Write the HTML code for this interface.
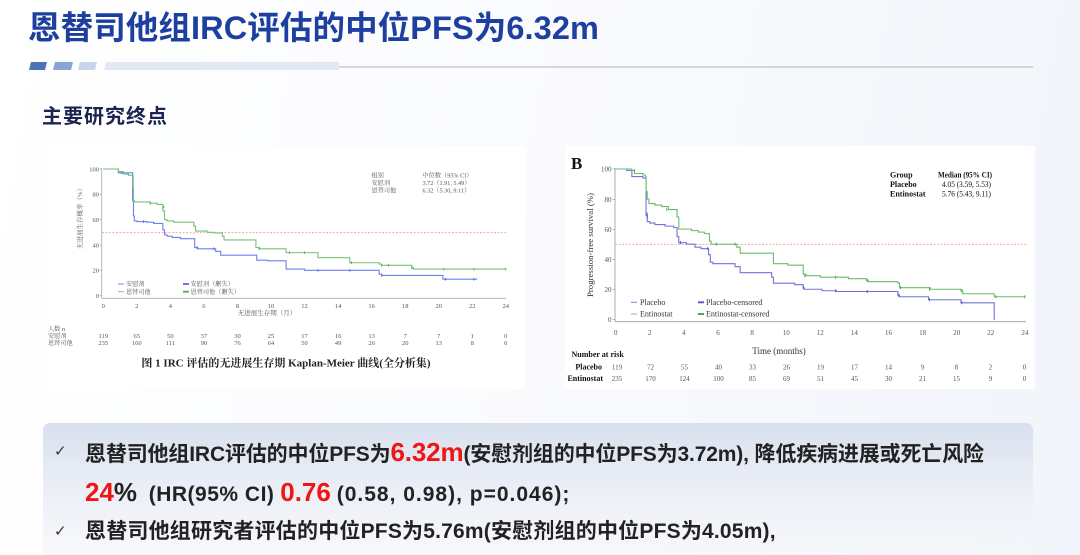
<!DOCTYPE html>
<html><head><meta charset="utf-8">
<style>
*{margin:0;padding:0;box-sizing:border-box}
html,body{width:1080px;height:555px;overflow:hidden}
body{position:relative;background:linear-gradient(100deg,#ffffff 0%,#f9fafd 55%,#f1f4fa 100%);font-family:"Liberation Sans","Noto Sans CJK SC",sans-serif}
.abs{position:absolute;white-space:nowrap}
.title{left:28px;top:10px;font-size:32.5px;line-height:36px;font-weight:bold;color:#1d3f9f;letter-spacing:0.1px}
.sub{left:42px;top:106px;font-size:20px;line-height:22px;font-weight:bold;color:#1b2450;letter-spacing:1px}
.card{position:absolute;background:#fff}
.box{position:absolute;left:43px;top:423px;width:990px;height:132px;border-radius:7px 7px 0 0;background:linear-gradient(180deg,#d8e0ee 0%,#e6ebf4 35%,#f2f4f9 75%,rgba(245,247,251,0.6) 100%)}
.ln{font-size:21px;line-height:30px;font-weight:bold;color:#222}
.red{color:#f01414;font-size:26px}
.chk{font-family:"DejaVu Sans",sans-serif;font-size:15px;font-weight:normal;color:#333}
</style></head><body>

<div class="abs title">恩替司他组IRC评估的中位PFS为6.32m</div>

<svg class="abs" style="left:0;top:0" width="1080" height="100">
  <polygon points="31,62 47,62 45,70 29,70" fill="#4f72bb"/>
  <polygon points="55,62 73,62 71,70 53,70" fill="#88a3d4"/>
  <polygon points="80,62 97,62 95,70 78,70" fill="#c8d5eb"/>
  <polygon points="106,62 339,62 339,70 104,70" fill="#e3e9f4"/>
  <line x1="339" y1="67" x2="1033" y2="67" stroke="#c9cacd" stroke-width="1.6"/>
</svg>

<div class="abs sub">主要研究终点</div>

<div class="card" style="left:47px;top:146px;width:478px;height:243px"></div>
<div class="card" style="left:565px;top:146px;width:470px;height:243px"></div>

<svg class="abs" style="left:0;top:0" width="1080" height="400" font-family="'Liberation Serif','Noto Serif CJK SC',serif">
  <!-- LEFT CHART -->
  <g stroke="#aaa" stroke-width="0.8" fill="none">
    <line x1="101.7" y1="168" x2="101.7" y2="298.3"/>
    <line x1="101.7" y1="298.3" x2="506" y2="298.3"/>
  </g>
  <g stroke="#aaa" stroke-width="0.7">
    <line x1="99.5" y1="169" x2="101.7" y2="169"/><line x1="99.5" y1="194.3" x2="101.7" y2="194.3"/>
    <line x1="99.5" y1="219.7" x2="101.7" y2="219.7"/><line x1="99.5" y1="245" x2="101.7" y2="245"/>
    <line x1="99.5" y1="270.3" x2="101.7" y2="270.3"/><line x1="99.5" y1="295.7" x2="101.7" y2="295.7"/>
  </g>
  <g font-size="6.5" fill="#555" text-anchor="end">
    <text x="99" y="171.3">100</text><text x="99" y="196.6">80</text><text x="99" y="222">60</text>
    <text x="99" y="247.3">40</text><text x="99" y="272.6">20</text><text x="99" y="298">0</text>
  </g>
  <g font-size="6.5" fill="#555" text-anchor="middle">
    <text x="103.3" y="308">0</text><text x="136.8" y="308">2</text><text x="170.4" y="308">4</text>
    <text x="203.9" y="308">6</text><text x="237.5" y="308">8</text><text x="271" y="308">10</text>
    <text x="304.5" y="308">12</text><text x="338.1" y="308">14</text><text x="371.6" y="308">16</text>
    <text x="405.2" y="308">18</text><text x="438.7" y="308">20</text><text x="472.2" y="308">22</text>
    <text x="505.8" y="308">24</text>
    <text x="267" y="315" font-size="6.5">无进展生存期（月）</text>
  </g>
  <text transform="translate(82 217) rotate(-90)" font-size="6.5" fill="#666" text-anchor="middle">无进展生存概率（%）</text>
  <line x1="102" y1="232.7" x2="506" y2="232.7" stroke="#f29a9a" stroke-width="0.9" stroke-dasharray="2,1.5"/>
  <g transform="translate(103.3 295.7) scale(16.77 -1.267)" fill="none">
    <path vector-effect="non-scaling-stroke" stroke="#6d7ef5" stroke-width="1.1" d="M0,100 H0.9 V97 H1.75 V75 H1.8 V63 H1.85 V59 H2.0 V58.5 H2.6 V58 H3.0 V57 H3.55 V52 H3.65 V48 H3.8 V47 H4.1 V46 H4.6 V45 H5.45 V38 H5.6 V37 H6.7 V35 H7.0 V32 H9.15 V28 H9.8 V27.5 H10.9 V21 H12 V20 H16.45 V17 H16.6 V16 H20.25 V13 H22.3"/>
    <path vector-effect="non-scaling-stroke" stroke="#5566ee" stroke-width="1" d="M1.1,96 V98 M2.4,57.5 V59.5 M5.6,37 V39 M6.6,36 V38 M12.8,19 V21 M14.7,19 V21 M16.6,15 V17 M20.4,12 V14 M22.1,12 V14"/>
    <path vector-effect="non-scaling-stroke" stroke="#74c274" stroke-width="1.1" d="M0,100 H0.9 V98 H1.2 V96 H1.5 V95 H1.78 V85 H1.8 V75 H1.85 V74 H2.8 V73 H3.2 V72 H3.55 V67 H3.65 V60 H3.8 V59 H4.2 V58 H5.4 V55 H5.5 V51 H6.2 V50 H6.6 V49.5 H7.1 V47 H7.2 V44 H9.1 V38 H9.3 V37 H10.9 V34 H12.8 V30 H14.7 V26 H16.45 V25 H16.6 V24 H18.4 V22 H18.5 V21 H24"/>
    <path vector-effect="non-scaling-stroke" stroke="#55b055" stroke-width="1" d="M2.8,72 V74 M3.6,69 V71 M9.3,36 V38 M11.1,33 V35 M12.0,33 V35 M14.8,25 V27 M16.6,23 V25 M17.0,23 V25 M18.4,21 V23 M20.3,20 V22 M22.1,20 V22 M24,20 V22"/>
  </g>
  <g font-size="6.2" fill="#555">
    <text x="371.5" y="177.5">组别</text><text x="422.5" y="177.5">中位数（95% CI）</text>
    <text x="371.5" y="185">安慰剂</text><text x="422.5" y="185">3.72（1.91, 5.49）</text>
    <text x="371.5" y="192.5">恩替司他</text><text x="422.5" y="192.5">6.32（5.30, 9.11）</text>
  </g>
  <g font-size="6.2" fill="#555">
    <line x1="118" y1="284" x2="124" y2="284" stroke="#7b8af5" stroke-width="1"/>
    <text x="126" y="286.2">安慰剂</text>
    <line x1="118" y1="291.7" x2="124" y2="291.7" stroke="#80c880" stroke-width="1"/>
    <text x="126" y="294">恩替司他</text>
    <line x1="183" y1="284" x2="189" y2="284" stroke="#5566ee" stroke-width="1.8"/>
    <text x="190.5" y="286.2">安慰剂（删失）</text>
    <line x1="183" y1="291.7" x2="189" y2="291.7" stroke="#55b055" stroke-width="1.8"/>
    <text x="190.5" y="294">恩替司他（删失）</text>
  </g>
  <g font-size="6.2" fill="#555">
    <text x="48" y="331">人数 n</text><text x="48" y="338">安慰剂</text><text x="48" y="345">恩替司他</text>
  </g>
  <g font-size="6.5" fill="#555" text-anchor="middle">
    <text x="103.3" y="338">119</text><text x="136.8" y="338">65</text><text x="170.4" y="338">50</text>
    <text x="203.9" y="338">37</text><text x="237.5" y="338">30</text><text x="271" y="338">25</text>
    <text x="304.5" y="338">17</text><text x="338.1" y="338">16</text><text x="371.6" y="338">13</text>
    <text x="405.2" y="338">7</text><text x="438.7" y="338">7</text><text x="472.2" y="338">1</text>
    <text x="505.8" y="338">0</text>
    <text x="103.3" y="345">235</text><text x="136.8" y="345">160</text><text x="170.4" y="345">111</text>
    <text x="203.9" y="345">90</text><text x="237.5" y="345">76</text><text x="271" y="345">64</text>
    <text x="304.5" y="345">50</text><text x="338.1" y="345">49</text><text x="371.6" y="345">26</text>
    <text x="405.2" y="345">20</text><text x="438.7" y="345">13</text><text x="472.2" y="345">8</text>
    <text x="505.8" y="345">0</text>
  </g>
  <text x="286" y="366.5" font-size="11" font-weight="bold" fill="#222" text-anchor="middle">图 1 IRC 评估的无进展生存期 Kaplan-Meier 曲线(全分析集)</text>

  <!-- RIGHT CHART -->
  <text x="571" y="169" font-size="17" font-weight="bold" fill="#111">B</text>
  <g stroke="#999" stroke-width="0.8" fill="none">
    <line x1="615" y1="168" x2="615" y2="321.7"/>
    <line x1="615" y1="321.7" x2="1026" y2="321.7"/>
  </g>
  <g stroke="#999" stroke-width="0.7">
    <line x1="612.5" y1="169" x2="615" y2="169"/><line x1="612.5" y1="199.3" x2="615" y2="199.3"/>
    <line x1="612.5" y1="229.3" x2="615" y2="229.3"/><line x1="612.5" y1="259.3" x2="615" y2="259.3"/>
    <line x1="612.5" y1="289.3" x2="615" y2="289.3"/><line x1="612.5" y1="319.3" x2="615" y2="319.3"/>
  </g>
  <g font-size="7" fill="#555" text-anchor="end">
    <text x="611.5" y="171.5">100</text><text x="611.5" y="201.8">80</text><text x="611.5" y="231.8">60</text>
    <text x="611.5" y="261.8">40</text><text x="611.5" y="291.8">20</text><text x="611.5" y="321.8">0</text>
  </g>
  <g font-size="7" fill="#555" text-anchor="middle">
    <text x="615.7" y="335">0</text><text x="649.8" y="335">2</text><text x="683.9" y="335">4</text>
    <text x="718" y="335">6</text><text x="752.1" y="335">8</text><text x="786.2" y="335">10</text>
    <text x="820.3" y="335">12</text><text x="854.4" y="335">14</text><text x="888.5" y="335">16</text>
    <text x="922.6" y="335">18</text><text x="956.7" y="335">20</text><text x="990.8" y="335">22</text>
    <text x="1024.9" y="335">24</text>
  </g>
  <text x="779" y="354" font-size="9" fill="#333" text-anchor="middle">Time (months)</text>
  <text transform="translate(593 245) rotate(-90)" font-size="8.8" fill="#333" text-anchor="middle">Progression-free survival (%)</text>
  <line x1="615" y1="244.3" x2="1028" y2="244.3" stroke="#f29a9a" stroke-width="0.9" stroke-dasharray="2,1.5"/>
  <g transform="translate(615.7 319.3) scale(17.05 -1.503)" fill="none">
    <path vector-effect="non-scaling-stroke" stroke="#7272dc" stroke-width="1.1" d="M0,100 H0.65 V99 H0.95 V95 H1.6 V94 H1.78 V69 H1.85 V65 H2.0 V64 H2.3 V63 H2.9 V62 H3.4 V61 H3.6 V55 H3.7 V51 H4.15 V50 H4.65 V48 H5.0 V47 H5.45 V43 H5.55 V38 H5.7 V37 H7.0 V35 H7.3 V31 H9.15 V28 H9.25 V24 H10.5 V23 H11.0 V21 H11.05 V20 H12.1 V19 H12.95 V18.5 H16.55 V16 H16.65 V15 H18.35 V13 H20.25 V11 H22.2 V0 H22.25"/>
    <path vector-effect="non-scaling-stroke" stroke="#5a5acc" stroke-width="1" d="M1.85,67 V71 M3.8,50 V52 M5.4,46 V48 M11.0,20 V22 M12.9,18 V20 M14.75,17.5 V19.5 M16.6,15 V17 M18.4,12 V14 M20.3,10 V12"/>
    <path vector-effect="non-scaling-stroke" stroke="#6abb6a" stroke-width="1.1" d="M0,100 H0.95 V99 H1.1 V97 H1.6 V96 H1.75 V95 H1.78 V85 H1.85 V80 H1.95 V77 H2.3 V76 H2.7 V75 H3.1 V73 H3.6 V68 H3.7 V60 H4.45 V59 H4.85 V58 H5.2 V57 H5.5 V52 H5.6 V50 H7.1 V48 H7.3 V44 H9.25 V37 H10.1 V36 H11.0 V30 H11.15 V29 H12.0 V28 H13.65 V27 H14.7 V26 H14.8 V25 H16.55 V24 H16.65 V21 H18.45 V20 H20.25 V19 H20.35 V17 H22.2 V15 H24"/>
    <path vector-effect="non-scaling-stroke" stroke="#4fa84f" stroke-width="1" d="M1.1,98 V100 M3.0,72 V74 M5.9,49 V51 M7.0,49 V51 M11.1,28 V30 M12.9,27 V29 M14.75,25 V27 M16.7,20 V22 M18.4,19 V21 M20.3,18 V20 M22.3,14 V16 M24,14 V16"/>
  </g>
  <g font-size="8" fill="#111">
    <text x="890" y="177.5" font-weight="bold">Group</text>
    <text x="938" y="177.5" font-weight="bold" textLength="54" lengthAdjust="spacingAndGlyphs">Median (95% CI)</text>
    <text x="890" y="187" font-weight="bold">Placebo</text>
    <text x="942" y="187" textLength="49" lengthAdjust="spacingAndGlyphs">4.05 (3.59, 5.53)</text>
    <text x="890" y="196.5" font-weight="bold">Entinostat</text>
    <text x="942" y="196.5" textLength="49" lengthAdjust="spacingAndGlyphs">5.76 (5.43, 9.11)</text>
  </g>
  <g font-size="8" fill="#333">
    <line x1="631" y1="302.3" x2="637" y2="302.3" stroke="#8080e0" stroke-width="1"/>
    <text x="640" y="305">Placebo</text>
    <line x1="631" y1="314" x2="637" y2="314" stroke="#80c880" stroke-width="1"/>
    <text x="640" y="316.7">Entinostat</text>
    <line x1="698" y1="302.3" x2="704" y2="302.3" stroke="#5a5acc" stroke-width="2"/>
    <text x="706" y="305">Placebo-censored</text>
    <line x1="698" y1="314" x2="704" y2="314" stroke="#4fa84f" stroke-width="2"/>
    <text x="706" y="316.7">Entinostat-censored</text>
  </g>
  <text x="571.5" y="357" font-size="8" font-weight="bold" fill="#111">Number at risk</text>
  <g font-size="8" font-weight="bold" fill="#111" text-anchor="end">
    <text x="602" y="369.5">Placebo</text><text x="603" y="381">Entinostat</text>
  </g>
  <g font-size="7" fill="#555" text-anchor="middle">
    <text x="617" y="369.5">119</text><text x="650.5" y="369.5">72</text><text x="684.5" y="369.5">55</text>
    <text x="718.5" y="369.5">40</text><text x="752.5" y="369.5">33</text><text x="786.5" y="369.5">26</text>
    <text x="820.5" y="369.5">19</text><text x="854.5" y="369.5">17</text><text x="888.5" y="369.5">14</text>
    <text x="922.5" y="369.5">9</text><text x="956.5" y="369.5">8</text><text x="990.5" y="369.5">2</text>
    <text x="1024.5" y="369.5">0</text>
    <text x="617" y="381">235</text><text x="650.5" y="381">170</text><text x="684.5" y="381">124</text>
    <text x="718.5" y="381">100</text><text x="752.5" y="381">85</text><text x="786.5" y="381">69</text>
    <text x="820.5" y="381">51</text><text x="854.5" y="381">45</text><text x="888.5" y="381">30</text>
    <text x="922.5" y="381">21</text><text x="956.5" y="381">15</text><text x="990.5" y="381">9</text>
    <text x="1024.5" y="381">0</text>
  </g>
</svg>

<div class="box"></div>
<div class="abs chk" style="left:54px;top:442px">✓</div>
<div class="abs ln" style="left:85px;top:437px;letter-spacing:-0.15px">恩替司他组IRC评估的中位PFS为<span class="red">6.32m</span>(安慰剂组的中位PFS为3.72m), 降低疾病进展或死亡风险</div>
<div class="abs ln" style="left:85px;top:477px"><span class="red">24</span><span style="font-size:26px">%</span>&nbsp; <span style="letter-spacing:0.5px">(HR(95% CI)</span> <span class="red">0.76</span> <span style="letter-spacing:1px">(0.58, 0.98), p=0.046);</span></div>
<div class="abs chk" style="left:54px;top:522px">✓</div>
<div class="abs ln" style="left:85px;top:517px;letter-spacing:0.2px">恩替司他组研究者评估的中位PFS为5.76m(安慰剂组的中位PFS为4.05m),</div>

</body></html>
